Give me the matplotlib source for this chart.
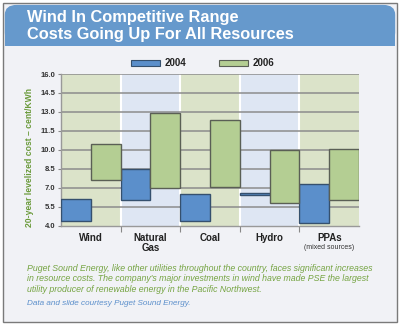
import matplotlib.pyplot as plt
from matplotlib.patches import Rectangle, FancyBboxPatch

# Cost ranges (cent/KWh), low and high end of each floating bar
categories = ['Wind', 'Natural\nGas', 'Coal', 'Hydro', 'PPAs']
low_2004 = [4.4, 6.0, 4.4, 6.45, 4.2]
high_2004 = [6.1, 8.5, 6.5, 6.62, 7.3]
low_2006 = [7.6, 7.0, 7.1, 5.8, 6.0]
high_2006 = [10.5, 12.9, 12.4, 10.0, 10.1]
yticks = [4.0, 5.5, 7.0, 8.5, 10.0, 11.5, 13.0, 14.5, 16.0]

fig = plt.figure(figsize=(4.0, 3.26), dpi=100)
fig.patch.set_facecolor('white')

# panel + header
fig.patches.append(Rectangle((0.008, 0.012), 0.984, 0.978, transform=fig.transFigure,
                             facecolor='#f1f2f6', edgecolor='#7a7a7a', lw=1.0, zorder=-2))
fig.patches.append(FancyBboxPatch((0.012, 0.87), 0.976, 0.115, transform=fig.transFigure,
                                  boxstyle='round,pad=0,rounding_size=0.03',
                                  facecolor='#6699cc', edgecolor='none', zorder=-1))
fig.patches.append(Rectangle((0.012, 0.858), 0.976, 0.06, transform=fig.transFigure,
                             facecolor='#6699cc', edgecolor='none', zorder=-1))
fig.text(0.068, 0.945, 'Wind In Competitive Range', color='white', fontsize=11.8,
         fontweight='bold', family='Liberation Sans', va='center')
fig.text(0.068, 0.895, 'Costs Going Up For All Resources', color='white', fontsize=11.8,
         fontweight='bold', family='Liberation Sans', va='center')

ax = fig.add_axes([0.1525, 0.3077, 0.745, 0.4653], zorder=2)
ax.patch.set_alpha(0)
ax.set_xlim(-0.5, 4.5)
ax.set_ylim(4, 16)

band_colors = ['#dbe3c9', '#dee6f3', '#dbe3c9', '#dee6f3', '#dbe3c9']
for i, c in enumerate(band_colors):
    ax.axvspan(i - 0.5, i + 0.5, color=c, zorder=0, lw=0)
for i in range(1, 5):
    ax.axvline(i - 0.5, color='white', lw=1.5, zorder=1)
for y in yticks[1:]:
    ax.axhline(y, color='#8c8c8c', lw=1.1, zorder=1)

xs = range(len(categories))
h04 = [h - l for l, h in zip(low_2004, high_2004)]
h06 = [h - l for l, h in zip(low_2006, high_2006)]
ax.bar([x - 0.25 for x in xs], h04, width=0.5, bottom=low_2004,
       color='#5b8fcb', edgecolor='#35506e', lw=1.0, zorder=3)
ax.bar([x + 0.25 for x in xs], h06, width=0.5, bottom=low_2006,
       color='#b4ce93', edgecolor='#5a5f55', lw=1.0, zorder=3)

ax.set_yticks(yticks)
ax.set_yticklabels(['%.1f' % v for v in yticks], fontsize=5.5, fontweight='bold',
                   family='Liberation Sans', color='#333333')
ax.tick_params(axis='y', length=2, width=0.8, color='#888888', pad=2)
ax.set_xticks([0.5, 1.5, 2.5, 3.5])
ax.set_xticklabels([])
ax.tick_params(axis='x', length=4, width=0.8, color='#888888')
for s in ['top', 'right']:
    ax.spines[s].set_visible(False)
for s in ['left', 'bottom']:
    ax.spines[s].set_color('#999999')
    ax.spines[s].set_linewidth(1.0)

for i, name in enumerate(categories):
    ax.text(i, 3.42, name, ha='center', va='top', fontsize=7, fontweight='bold',
            family='Liberation Sans', color='#222222', linespacing=1.0)
ax.text(4, 2.58, '(mixed sources)', ha='center', va='top', fontsize=5,
        family='Liberation Sans', color='#333333')

fig.text(0.075, 0.518, '20-year levelized cost – cent/KWh', rotation=90, color='#6a9a3a',
         fontsize=6.2, fontweight='bold', family='Liberation Sans', ha='center', va='center')

# legend
fig.patches.append(Rectangle((0.328, 0.797), 0.072, 0.018, transform=fig.transFigure,
                             facecolor='#5b8fcb', edgecolor='#35506e', lw=0.8))
fig.text(0.412, 0.806, '2004', fontsize=7, fontweight='bold', family='Liberation Sans',
         va='center', color='#222222')
fig.patches.append(Rectangle((0.548, 0.797), 0.072, 0.018, transform=fig.transFigure,
                             facecolor='#b4ce93', edgecolor='#5a5f55', lw=0.8))
fig.text(0.632, 0.806, '2006', fontsize=7, fontweight='bold', family='Liberation Sans',
         va='center', color='#222222')

note = ("Puget Sound Energy, like other utilities throughout the country, faces significant increases\n"
        "in resource costs. The company's major investments in wind have made PSE the largest\n"
        "utility producer of renewable energy in the Pacific Northwest.")
fig.text(0.068, 0.19, note, fontsize=6.3, style='italic', family='Liberation Sans',
         color='#75a442', va='top', linespacing=1.2)
fig.text(0.068, 0.068, 'Data and slide courtesy Puget Sound Energy.', fontsize=5.9,
         style='italic', family='Liberation Sans', color='#5b8fcb', va='center')

fig.savefig('out.png', dpi=100, facecolor=fig.get_facecolor())
